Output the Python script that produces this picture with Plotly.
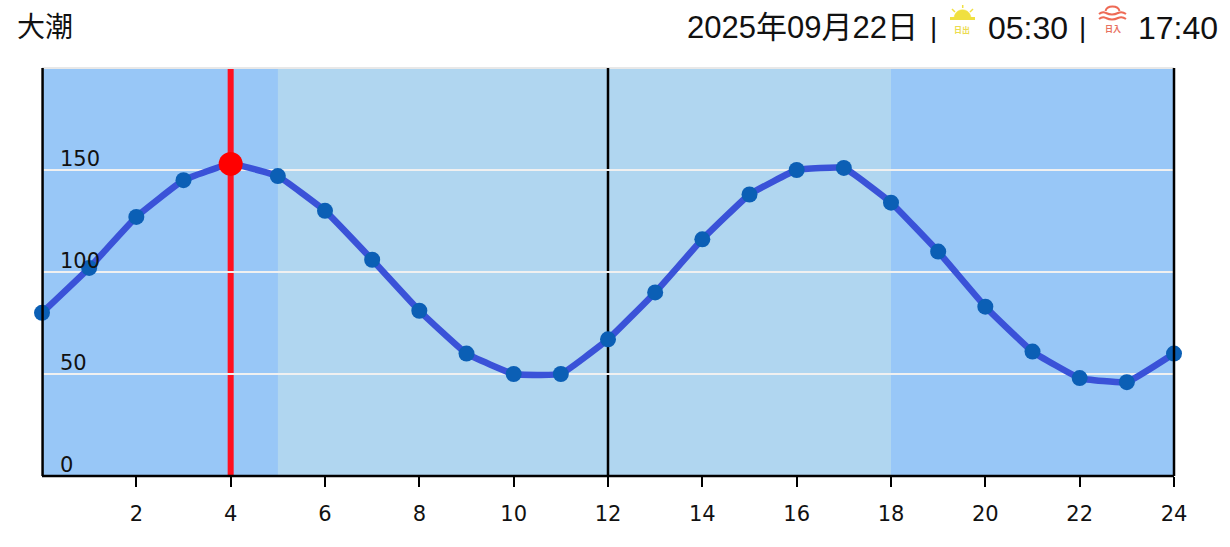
import plotly.graph_objects as go

hours = list(range(25))
tide = [80, 102, 127, 145, 153, 147, 130, 106, 81, 60, 50, 50, 67, 90, 116, 138, 150, 151, 134, 110, 83, 61, 48, 46, 60]
now_hour = 4
now_tide = 153
x_ticks = list(range(2, 25, 2))
y_ticks = [0, 50, 100, 150]
night_color = "#98c7f7"
day_color = "#b0d6f0"
sunrise_hour = 5
sunset_hour = 18
tide_name = "大潮"
date_text = "2025年09月22日"
sunrise_text = "05:30"
sunset_text = "17:40"

W, H = 1230, 547
L, R, T, B = 42, 56, 68, 71
FONT_AX = "DejaVu Sans"
FONT_T = "Liberation Sans, Noto Sans CJK JP"

def px(x): return (x - L) / (W - L - R)
def py(y): return 1 - (y - T) / (H - T - B)

fig = go.Figure()
fig.add_trace(go.Scatter(x=hours, y=tide, mode="lines", line=dict(color="#3a52d8", width=6.5, shape="spline", smoothing=0.3), hoverinfo="skip", cliponaxis=False))
fig.add_trace(go.Scatter(x=hours, y=tide, mode="markers", marker=dict(color="#0b5fb5", size=16), hoverinfo="skip", cliponaxis=False))
fig.add_trace(go.Scatter(x=[now_hour], y=[now_tide], mode="markers", marker=dict(color="#ff0000", size=24), hoverinfo="skip", cliponaxis=False))

shapes = [
    dict(type="rect", xref="x", yref="paper", x0=0, x1=sunrise_hour, y0=0, y1=1, fillcolor=night_color, line_width=0, layer="below"),
    dict(type="rect", xref="x", yref="paper", x0=sunrise_hour, x1=sunset_hour, y0=0, y1=1, fillcolor=day_color, line_width=0, layer="below"),
    dict(type="rect", xref="x", yref="paper", x0=sunset_hour, x1=24, y0=0, y1=1, fillcolor=night_color, line_width=0, layer="below"),
    dict(type="line", xref="x", yref="paper", x0=now_hour, x1=now_hour, y0=0, y1=1, line=dict(color="#ff1020", width=6), layer="below"),
    dict(type="line", xref="paper", yref="paper", x0=0, x1=1, y0=1, y1=1, line=dict(color="#e8e8e8", width=2), layer="below"),
]

def icon_line(pts, color, width):
    d = "M " + " L ".join(f"{px(a)},{py(b)}" for a, b in pts)
    return dict(type="path", xref="paper", yref="paper", path=d, line=dict(color=color, width=width), layer="above")

fig.update_layout(
    width=W, height=H, margin=dict(l=L, r=R, t=T, b=B),
    paper_bgcolor="white", plot_bgcolor=night_color, showlegend=False,
    xaxis=dict(range=[0, 24], tickvals=x_ticks, ticks="outside", ticklen=10, tickwidth=1.5, tickcolor="black",
               tickfont=dict(family=FONT_AX, size=21, color="#111"), showgrid=False, zeroline=False,
               showline=False, ticklabelstandoff=9),
    yaxis=dict(range=[0, 200], tickvals=y_ticks, showticklabels=False, ticks="", gridcolor="#f0f0f0", gridwidth=2,
               zeroline=False, showline=False),
    shapes=shapes,
)

fig.add_shape(type="line", xref="x", yref="paper", x0=12, x1=12, y0=0, y1=1, line=dict(color="black", width=2.5), layer="below")
fig.add_shape(type="line", xref="paper", yref="paper", x0=0.0005, x1=0.0005, y0=0, y1=1, line=dict(color="black", width=2.5), layer="above")
fig.add_shape(type="line", xref="paper", yref="paper", x0=1, x1=1, y0=0, y1=1, line=dict(color="black", width=2.5), layer="above")
fig.add_shape(type="line", xref="paper", yref="paper", x0=0, x1=1, y0=0, y1=0, line=dict(color="black", width=2.5), layer="above")

for v in y_ticks:
    fig.add_annotation(xref="paper", yref="y", x=0, y=v, xshift=16, yshift=-3, text=str(v), showarrow=False,
                       xanchor="left", yanchor="bottom", font=dict(family=FONT_AX, size=21, color="#111"))

def top_text(x, anchor, text, size=31):
    fig.add_annotation(xref="paper", yref="paper", x=px(x), y=py(28), text=text, showarrow=False, xanchor=anchor, yanchor="middle",
                       font=dict(family=FONT_T, size=size, color="#111"))

top_text(15, "left", tide_name, 28)
top_text(920, "right", date_text)
top_text(933.5, "center", "|", 28)
top_text(1070, "right", sunrise_text, 32)
top_text(1082.5, "center", "|", 28)
top_text(1219.5, "right", sunset_text, 32)
fig.add_annotation(xref="paper", yref="paper", x=px(962), y=py(30), xanchor="center", yanchor="middle", text="<b>日出</b>", showarrow=False, font=dict(family="Noto Sans CJK JP", size=8, color="#ecdc50"))
fig.add_annotation(xref="paper", yref="paper", x=px(1112.5), y=py(29), xanchor="center", yanchor="middle", text="<b>日入</b>", showarrow=False, font=dict(family="Noto Sans CJK JP", size=8, color="#e87060"))

# sunrise icon
yc = "#f0e040"
fig.add_shape(icon_line([(950, 18.5), (975, 18.5)], yc, 3))
fig.add_shape(type="path", xref="paper", yref="paper", path=f"M {px(954)},{py(18)} C {px(955)},{py(7)} {px(970)},{py(7)} {px(971)},{py(18)} Z", fillcolor=yc, line=dict(color=yc, width=0.5))
fig.add_shape(icon_line([(962.7, 5), (962.7, 8)], yc, 1.5))
fig.add_shape(icon_line([(952, 9), (955, 12)], yc, 1.5))
fig.add_shape(icon_line([(973, 9), (970, 12)], yc, 1.5))
# sunset icon
rc = "#ee6a55"
def wave(yb):
    a, m1, m2, b = 1099, 1106, 1118, 1126
    return (f"M {px(a)},{py(yb)} Q {px(1102.5)},{py(yb-3)} {px(m1)},{py(yb-1)} Q {px(1112)},{py(yb+2)} {px(m2)},{py(yb-1)} Q {px(1122)},{py(yb-3)} {px(b)},{py(yb)}")
for yb in (14, 19):
    fig.add_shape(type="path", xref="paper", yref="paper", path=wave(yb), line=dict(color=rc, width=2))
fig.add_shape(type="path", xref="paper", yref="paper", path=f"M {px(1105.5)},{py(11)} C {px(1107)},{py(5)} {px(1118)},{py(5)} {px(1119.5)},{py(11)}", line=dict(color=rc, width=2))

fig.write_html("out.html", post_script="document.body.style.margin='0';", config=dict(displayModeBar=False))
